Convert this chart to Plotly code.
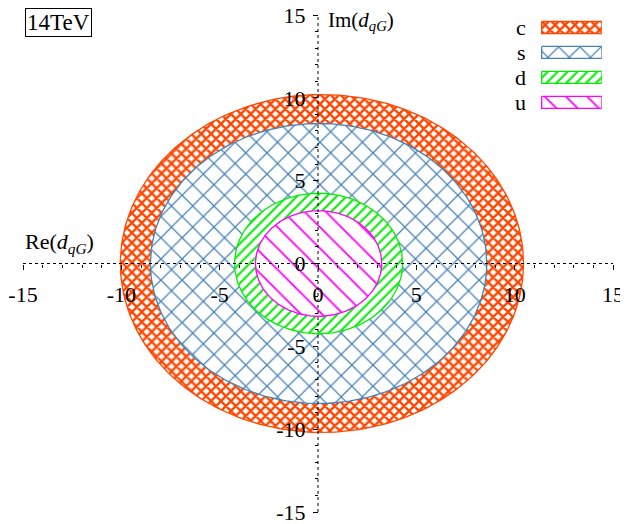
import numpy as np
import plotly.graph_objects as go

# allowed regions of Im/Re(d_qG) at 14 TeV, one ellipse per quark flavour
quarks = ["c", "s", "d", "u"]
center_x = [0.2, 0.03, 0.03, 0.03]
center_y = [0.0, 0.0, 0.0, 0.0]
radius_x = [10.25, 8.55, 4.27, 3.21]
radius_y = [10.2, 8.45, 4.24, 3.19]

colors = ["#ff4500", "#4682b4", "#00ee00", "#ff00ff"]
patterns = ["x", "x", "/", "\\"]
pat_size = [7, 15, 7, 15]
pat_solid = [0.55, 0.16, 0.28, 0.12]

tick_vals = [-15, -10, -5, 0, 5, 10, 15]
tick_text = ["-15", "-10", "-5", "0", "5", "10", "15"]

FONT = "Liberation Serif"

fig = go.Figure()


def pattern(i):
    return dict(shape=patterns[i], size=pat_size[i], solidity=pat_solid[i],
                fgcolor=colors[i], fgopacity=1, bgcolor="white",
                fillmode="replace")


t = np.linspace(0, 2 * np.pi, 300)
for i, q in enumerate(quarks):
    fig.add_trace(go.Scatter(
        x=center_x[i] + radius_x[i] * np.cos(t),
        y=center_y[i] + radius_y[i] * np.sin(t),
        mode="lines",
        fill="toself",
        fillcolor=colors[i],
        line=dict(color=colors[i], width=1.3),
        fillpattern=pattern(i),
        showlegend=False,
        hoverinfo="skip",
    ))

# hand-made legend (label left of swatch) in a small inset axes
for i, q in enumerate(quarks):
    fig.add_trace(go.Scatter(
        x=[0, 1, 1, 0, 0],
        y=[i - 0.24, i - 0.24, i + 0.24, i + 0.24, i - 0.24],
        mode="lines",
        fill="toself",
        fillcolor=colors[i],
        line=dict(color=colors[i], width=1.3),
        fillpattern=pattern(i),
        xaxis="x2", yaxis="y2",
        showlegend=False,
        hoverinfo="skip",
    ))
    fig.add_annotation(x=-0.22, y=i, xref="x2", yref="y2", text=q,
                       showarrow=False, xanchor="right", yanchor="middle",
                       font=dict(family=FONT, size=22, color="black"))

# dotted axes through the origin
fig.add_shape(type="line", x0=-15, x1=15, y0=0, y1=0, xref="x", yref="y",
              line=dict(color="black", width=1, dash="dot"), layer="above")
fig.add_shape(type="line", x0=0, x1=0, y0=-15, y1=15, xref="x", yref="y",
              line=dict(color="black", width=1, dash="dot"), layer="above")

axis_common = dict(
    range=[-15, 15],
    tickvals=tick_vals,
    ticktext=tick_text,
    ticks="outside",
    ticklen=5,
    tickcolor="black",
    tickfont=dict(family=FONT, size=22, color="black"),
    ticklabeloverflow="allow",
    minor=dict(dtick=1, ticks="outside", ticklen=3, tickcolor="black"),
    showline=False,
    showgrid=False,
    zeroline=False,
    anchor="free",
    position=0.5,
    automargin=False,
)

inset = dict(showline=False, showgrid=False, zeroline=False,
             showticklabels=False, ticks="", fixedrange=True,
             automargin=False)

# the page body adds an 8px offset, so margins are shifted to compensate
fig.update_layout(
    width=628,
    height=524,
    margin=dict(l=15, r=23, t=7, b=20, autoexpand=False),
    plot_bgcolor="white",
    paper_bgcolor="white",
    xaxis=dict(axis_common, ticklabelstandoff=6),
    yaxis=dict(axis_common, ticklabelstandoff=3),
    xaxis2=dict(inset, domain=[0.818, 0.981], range=[-0.6, 1], anchor="y2"),
    yaxis2=dict(inset, domain=[0.799, 1.0], range=[3.5, -0.5], anchor="x2"),
)

fig.add_annotation(x=-15, y=0.25, xref="x", yref="y",
                   text="Re(<i>d</i><sub><i>qG</i></sub>)",
                   showarrow=False, xanchor="left", yanchor="bottom",
                   font=dict(family=FONT, size=22, color="black"))
fig.add_annotation(x=0.4, y=14.65, xref="x", yref="y",
                   text="Im(<i>d</i><sub><i>qG</i></sub>)",
                   showarrow=False, xanchor="left", yanchor="middle",
                   font=dict(family=FONT, size=21, color="black"))
fig.add_annotation(x=0.003, y=1.014, xref="paper", yref="paper",
                   text="14TeV", showarrow=False,
                   xanchor="left", yanchor="top",
                   bordercolor="black", borderwidth=1, borderpad=1,
                   font=dict(family=FONT, size=23, color="black"))

fig.write_html("out.html")
